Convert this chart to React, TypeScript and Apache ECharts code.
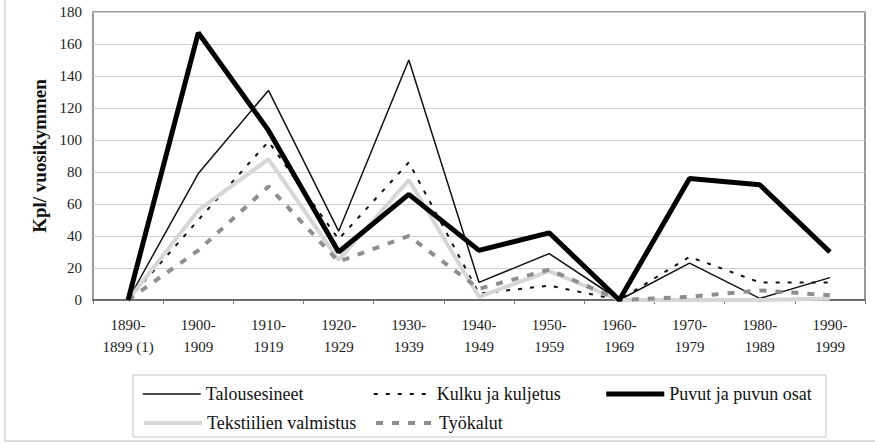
import React, { useEffect, useRef } from "react";
import * as echarts from "echarts";

const categories = [
  "1890-\n1899 (1)", "1900-\n1909", "1910-\n1919", "1920-\n1929", "1930-\n1939",
  "1940-\n1949", "1950-\n1959", "1960-\n1969", "1970-\n1979", "1980-\n1989", "1990-\n1999",
];
const talousesineet = [0, 79, 131, 43, 150, 11, 29, 0, 23, 1, 14];
const kulku = [0, 50, 99, 38, 86, 4, 9, 0, 27, 11, 11];
const puvut = [0, 167, 106, 30, 66, 31, 42, 0, 76, 72, 30];
const tekstiilien = [0, 56, 88, 25, 75, 2, 18, 0, 0, 0, 1];
const tyokalut = [0, 31, 71, 24, 40, 7, 19, 0, 2, 6, 3];

const FONT = "'Liberation Serif', 'Times New Roman', serif";

export default function App() {
  const ref = useRef<HTMLDivElement>(null);
  useEffect(() => {
    if (!ref.current) return;
    const chart = echarts.init(ref.current, undefined, { renderer: "svg" });
    const legendCommon = {
      left: 137,
      orient: "horizontal",
      itemWidth: 58,
      itemHeight: 14,
      itemGap: 0,
      formatter: "{a|{name}}",
      lineStyle: { width: "inherit" },
      itemStyle: { opacity: 0 },
      textStyle: {
        fontFamily: FONT,
        rich: {
          a: { width: 167, fontSize: 18, fontFamily: FONT, color: "#111", lineHeight: 22, height: 22 },
        },
      },
    };
    chart.setOption({
      animation: false,
      backgroundColor: "#fff",
      textStyle: { fontFamily: FONT },
      grid: {
        left: 93,
        right: 10,
        top: 12,
        bottom: 144,
        show: true,
        borderColor: "#777",
        borderWidth: 1.5,
      },
      legend: [
        { ...legendCommon, top: 378, data: ["Talousesineet", "Kulku ja kuljetus", "Puvut ja puvun osat"] },
        { ...legendCommon, top: 407, data: ["Tekstiilien valmistus", "Työkalut"] },
      ],
      xAxis: {
        type: "category",
        data: categories,
        boundaryGap: true,
        axisLine: { lineStyle: { color: "#555", width: 1.5 } },
        axisTick: { show: true, length: 4, lineStyle: { color: "#777" } },
        axisLabel: {
          color: "#222",
          fontSize: 15,
          fontFamily: FONT,
          lineHeight: 22,
          margin: 14,
          interval: 0,
        },
      },
      yAxis: {
        type: "value",
        min: 0,
        max: 180,
        interval: 20,
        name: "Kpl/ vuosikymmen",
        nameLocation: "middle",
        nameGap: 43,
        nameTextStyle: { fontSize: 19, fontWeight: "bold", fontFamily: FONT, color: "#111" },
        axisLine: { show: false },
        axisTick: { show: false },
        axisLabel: { color: "#222", fontSize: 15, fontFamily: FONT, margin: 11 },
        splitLine: { lineStyle: { color: "#cfcfcf", width: 1 } },
      },
      series: [
        {
          name: "Talousesineet",
          type: "line",
          data: talousesineet,
          symbol: "none",
          lineStyle: { color: "#111", width: 1.5 },
          itemStyle: { color: "#111" },
        },
        {
          name: "Kulku ja kuljetus",
          type: "line",
          data: kulku,
          symbol: "none",
          lineStyle: { color: "#111", width: 2, type: [4, 8] },
          itemStyle: { color: "#111" },
        },
        {
          name: "Tekstiilien valmistus",
          type: "line",
          data: tekstiilien,
          symbol: "none",
          lineStyle: { color: "#d6d6d6", width: 4 },
          itemStyle: { color: "#d6d6d6" },
        },
        {
          name: "Työkalut",
          type: "line",
          data: tyokalut,
          symbol: "none",
          lineStyle: { color: "#8e8e8e", width: 4, type: [7, 9] },
          itemStyle: { color: "#8e8e8e" },
        },
        {
          name: "Puvut ja puvun osat",
          type: "line",
          data: puvut,
          symbol: "none",
          lineStyle: { color: "#000", width: 5 },
          itemStyle: { color: "#000" },
        },
      ],
      graphic: [
        {
          type: "rect",
          silent: true,
          shape: { x: 133, y: 375, width: 693, height: 62 },
          style: { fill: "none", stroke: "#c4c4c4", lineWidth: 1 },
        },
        {
          type: "polyline",
          silent: true,
          shape: { points: [[5, 0], [5, 441], [875, 441]] },
          style: { fill: "none", stroke: "#d4d4d4", lineWidth: 1.5 },
        },
      ],
    });
    return () => chart.dispose();
  }, []);
  return <div ref={ref} style={{ width: 875, height: 444, position: "absolute", left: 0, top: 0 }} />;
}
